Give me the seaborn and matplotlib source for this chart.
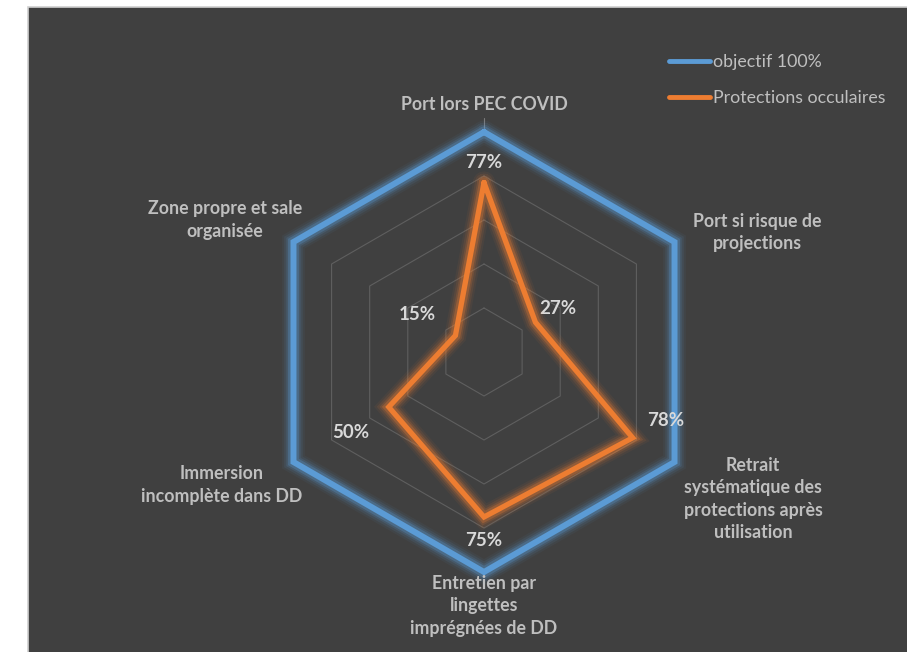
import numpy as np
import matplotlib
matplotlib.use("Agg")
import matplotlib.pyplot as plt
import matplotlib.patheffects as pe
from matplotlib.patches import Rectangle
from matplotlib.lines import Line2D
import seaborn as sns

# ---------------- data ----------------
categories = [
    "Port lors PEC COVID",
    "Port si risque de\nprojections",
    "Retrait\nsystématique des\nprotections après\nutilisation",
    "Entretien par\nlingettes\nimprégnées de DD",
    "Immersion\nincomplète dans DD",
    "Zone propre et sale\norganisée",
]
objectif = [100, 100, 100, 100, 100, 100]
protections = [77, 27, 78, 75, 50, 15]
value_labels = ["77%", "27%", "78%", "75%", "50%", "15%"]
grid_levels = [20, 40, 60, 80, 100]
series_names = ["objectif 100%", "Protections occulaires"]

# ---------------- style ----------------
sns.set_theme(style="white")
plt.rcParams['font.family'] = ['Lato', 'DejaVu Sans']

BLUE = '#5B9BD5'
ORANGE = '#ED7D31'
BG = '#404040'
LABEL_C = '#bfbfbf'
VAL_C = '#d9d9d9'

W, H = 907, 652
fig = plt.figure(figsize=(W / 100, H / 100), dpi=100, facecolor='white')
fig.patches.append(Rectangle((27.5 / W, -0.02), 1 - 27.5 / W + 0.02, 1 - 6.5 / H + 0.02,
                             transform=fig.transFigure, facecolor=BG,
                             edgecolor='#d0d0d0', lw=1.2, zorder=-10))

cx, cy, R = 484, H - 352, 220
ax = fig.add_axes([(cx - R) / W, (cy - R) / H, 2 * R / W, 2 * R / H], projection='polar')
ax.set_facecolor('none')
ax.set_theta_offset(np.pi / 2)
ax.set_theta_direction(-1)
ax.grid(False)
ax.spines['polar'].set_visible(False)

n = len(categories)
theta = np.arange(n) * 2 * np.pi / n
theta_c = np.append(theta, theta[0])

# hexagonal grid
for lvl in grid_levels:
    ax.plot(theta_c, [lvl] * (n + 1), color='#5f5f5f', lw=0.8, zorder=1, clip_on=False)
# small axis tick above top vertex
ax.plot([0, 0], [100, 106.5], color='#7a7a7a', lw=0.8, clip_on=False, zorder=1)


def glow(color, w):
    effs = []
    for extra, a in [(12, 0.06), (9, 0.10), (6, 0.16), (3.5, 0.28)]:
        effs.append(pe.Stroke(linewidth=w + extra, foreground=color, alpha=a))
    effs.append(pe.Normal())
    return effs


# series
sns.lineplot(x=theta_c, y=np.append(objectif, objectif[0]), ax=ax, sort=False,
             color=BLUE, linewidth=4.3, estimator=None, zorder=3)
ln_b = ax.lines[-1]
sns.lineplot(x=theta_c, y=np.append(protections, protections[0]), ax=ax, sort=False,
             color=ORANGE, linewidth=3.8, estimator=None, zorder=4)
ln_o = ax.lines[-1]
for ln, c, w in [(ln_b, BLUE, 4.3), (ln_o, ORANGE, 3.8)]:
    ln.set_clip_on(False)
    ln.set_solid_joinstyle('miter')
    ln.set_path_effects(glow(c, w))

ax.set_ylim(0, 100)
ax.set_xticks([])
ax.set_yticks([])
ax.set_xlabel('')
ax.set_ylabel('')
if ax.get_legend():
    ax.get_legend().remove()

# category labels (offsets in pixels from outer vertex)
cat_offsets = [(0, 28), (82.5, 9.5), (78.5, -37), (0, -34), (-72, -23), (-68.5, 22)]
for i, (lab, off) in enumerate(zip(categories, cat_offsets)):
    ax.annotate(lab, xy=(theta[i], 100), xytext=off, textcoords='offset pixels',
                ha='center', va='center', multialignment='center', fontsize=12.8,
                fontweight='bold', color=LABEL_C, annotation_clip=False,
                linespacing=1.38)

# value labels
val_offsets = [(0, 20), (22, 14), (33, 17), (0, -23), (-38, -25), (-38, 21)]
for i, (lab, off) in enumerate(zip(value_labels, val_offsets)):
    ax.annotate(lab, xy=(theta[i], protections[i]), xytext=off, textcoords='offset pixels',
                ha='center', va='center', fontsize=13.5, fontweight='bold',
                color=VAL_C, annotation_clip=False)

# legend
handles = [Line2D([], [], color=BLUE, lw=3.5), Line2D([], [], color=ORANGE, lw=3.5)]
fig.legend(handles, series_names, loc='center left', bbox_to_anchor=(669 / W, 1 - 80 / H),
           frameon=False, fontsize=12.8, labelcolor=LABEL_C, handlelength=2.3,
           handletextpad=0.2, labelspacing=1.1, borderpad=0, borderaxespad=0)

fig.savefig('out.png', dpi=100, facecolor='white')
